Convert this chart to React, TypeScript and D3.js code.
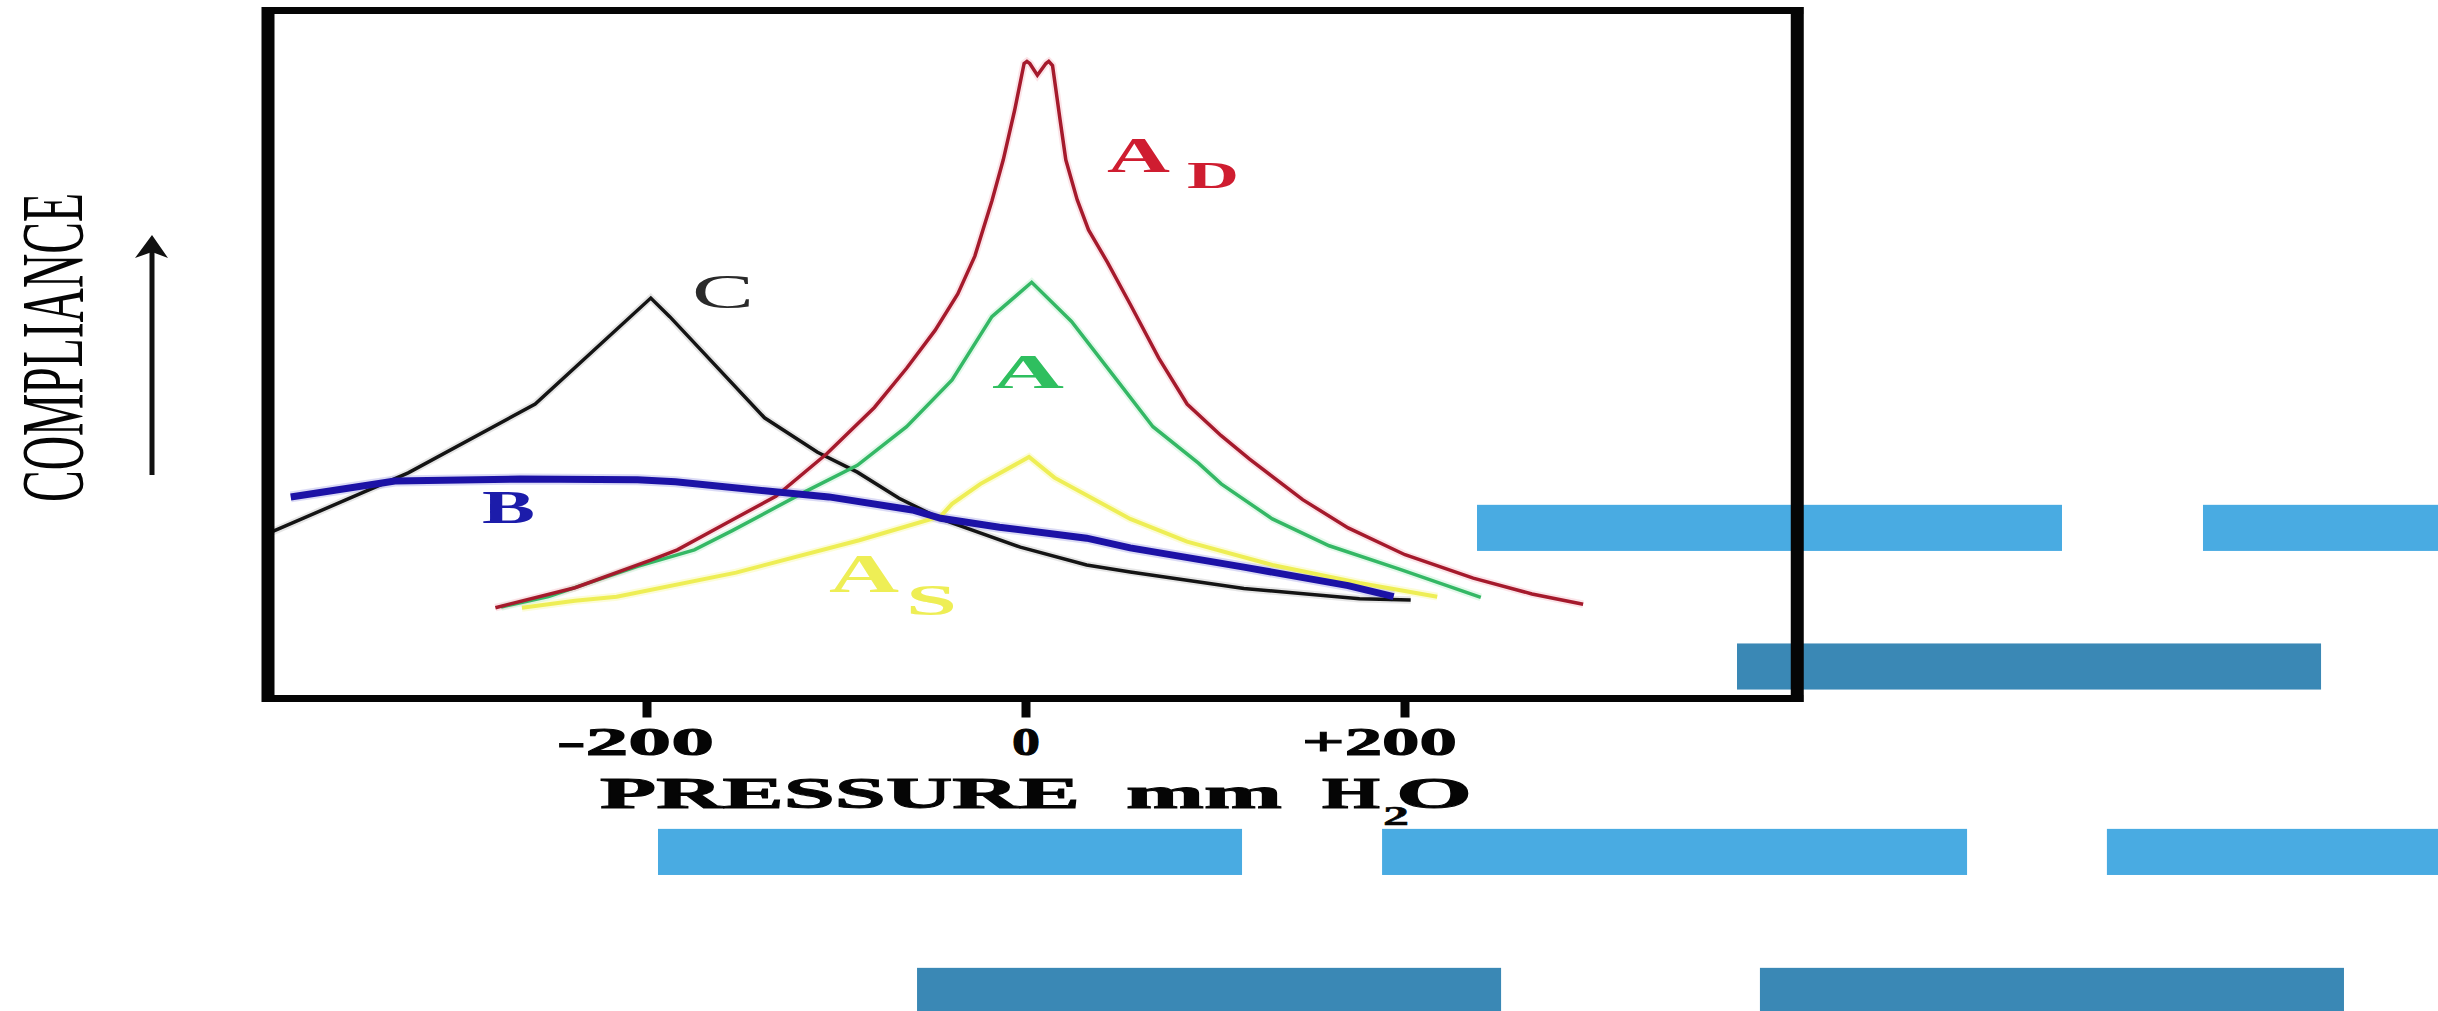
import React from "react";
import * as d3 from "d3";

// ---- data (pressure mm H2O, relative compliance 0-100) ----
const curveAD: [number, number][] = [
  [-280, 13.2], [-238, 16.1], [-198, 20.1], [-184, 21.6], [-158, 25.5], [-132, 29.4],
  [-105, 35.6], [-80, 42.3], [-63, 48.0], [-48, 53.5], [-36, 58.8], [-27, 64.3], [-18, 72.3],
  [-12, 78.3], [-6, 85.5], [-1, 92.3], [0.5, 92.6], [2, 92.3], [6, 90.6], [10.5, 92.3],
  [12, 92.6], [14, 92.0], [18, 84.1], [21, 78.3], [27, 72.5], [33, 68.1], [43, 63.4],
  [55, 57.3], [70, 49.5], [85, 42.8], [103, 38.2], [118, 34.8], [146, 28.9], [170, 24.8],
  [200, 20.9], [236, 17.5], [267, 15.2], [294, 13.7],
];
const curveA: [number, number][] = [
  [-277, 13.3], [-252, 14.8], [-205, 19.2], [-175, 21.6], [-155, 24.4], [-117, 30.0],
  [-89, 33.9], [-63, 39.5], [-39, 46.3], [-18, 55.5], [3, 60.5], [24, 54.8], [48.5, 46.1],
  [67, 39.5], [91, 34.2], [103, 31.2], [130, 26.1], [160, 22.2], [197, 18.8], [240, 14.7],
];
const curveAS: [number, number][] = [
  [-266, 13.2], [-238, 14.2], [-216, 14.8], [-153, 18.3], [-88, 23.0], [-45, 26.5],
  [-39, 28.3], [-24, 31.2], [1.6, 35.1], [15, 32.1], [55, 26.1], [85, 22.8], [130, 19.4],
  [176, 16.8], [217, 14.8],
];
const curveB: [number, number][] = [
  [-388, 29.3], [-333, 31.6], [-267, 31.9], [-205, 31.8], [-185, 31.5], [-138, 30.2],
  [-104, 29.3], [-60, 27.4], [-45, 26.2], [-14, 24.9], [32, 23.3], [55, 21.9], [115, 19.1],
  [170, 16.4], [194, 14.8],
];
const curveC: [number, number][] = [
  [-399, 24.1], [-326, 32.8], [-259, 42.8], [-198, 58.2], [-188, 55.5], [-138, 40.8],
  [-110, 35.8], [-89, 32.9], [-67, 29.1], [-45, 26.1], [-3, 22.0], [32, 19.4], [55, 18.4],
  [115, 16.0], [176, 14.5], [203, 14.3],
];

const tickValues = [-200, 0, 200];
const tickLabels = ["-200", "0", "+200"];
const xTitleParts = ["PRESSURE", "mm", "H", "2", "O"];
const yTitle = "COMPLIANCE";

// overlay stripes (in the same pressure / compliance units)
const stripeRowCenters = [24.8, 4.65, -22.3, -42.5];
const stripeRowShade = ["light", "dark", "light", "dark"];
const stripeSegments: [number, number, number][] = [
  [0, 238, 546.7], [0, 621.1, 780],
  [1, 375.2, 683.4],
  [2, -194.2, 114.0], [2, 187.9, 496.6], [2, 570.4, 780],
  [3, -57.5, 250.7], [3, 387.3, 695.5],
];

// ---- layout / style ----
const W = 2438;
const H = 1011;
const x = d3.scaleLinear().domain([-200, 200]).range([647, 1405]);
const y = d3.scaleLinear().domain([0, 100]).range([698.5, 10.5]);
const frameX0 = -400;
const frameX1 = 407;
const stripeHeight = 6.7;
const FONT = "'Liberation Serif', 'DejaVu Serif', serif";

const curves = [
  { id: "C", data: curveC, color: "#141414", width: 3.5, halo: "#c8c8c8" },
  { id: "AS", data: curveAS, color: "#eeee55", width: 4, halo: "#f8f8a8" },
  { id: "A", data: curveA, color: "#34b865", width: 3.5, halo: "#c0f0d0" },
  { id: "AD", data: curveAD, color: "#a51a2c", width: 3.5, halo: "#f6c4cc" },
  { id: "B", data: curveB, color: "#1c12a6", width: 7, halo: "#b0b0e8" },
];

const tickLabelLayout: Record<string, { dx: number; len: number }> = {
  "-200": { dx: -11.5, len: 157 },
  "0": { dx: 0, len: 28 },
  "+200": { dx: -25.5, len: 155 },
};

export default function App() {
  const line = d3
    .line<[number, number]>()
    .x((d) => x(d[0]))
    .y((d) => y(d[1]))
    .curve(d3.curveLinear);

  const xl = x(frameX0);
  const xr = x(frameX1);
  const yt = y(100);
  const yb = y(0);

  const bold = { fontWeight: "bold" as const, fill: "#050505", stroke: "#050505", strokeWidth: 1 };

  return (
    <svg
      width={W}
      height={H}
      style={{ position: "absolute", left: 0, top: 0, background: "#fff" }}
      fontFamily={FONT}
    >
      <rect x={0} y={0} width={W} height={H} fill="#ffffff" />

      {/* curves */}
      {curves.map((c) => (
        <path key={c.id + "h"} d={line(c.data) || ""} fill="none" stroke={c.halo}
          strokeWidth={c.width + 4} strokeOpacity={0.45} strokeLinejoin="miter" />
      ))}
      {curves.map((c) => (
        <path key={c.id} d={line(c.data) || ""} fill="none" stroke={c.color}
          strokeWidth={c.width} strokeLinejoin="miter" strokeMiterlimit={10} />
      ))}

      {/* curve labels */}
      <text x={692} y={308} fontSize={48} fill="#2a2a2a" textLength={62} lengthAdjust="spacingAndGlyphs">C</text>
      <text x={482} y={523} fontSize={47} fontWeight="bold" fill="#1c1caa" textLength={53} lengthAdjust="spacingAndGlyphs">B</text>
      <text x={992} y={388} fontSize={48} fontWeight="bold" fill="#2fbf5f" textLength={72} lengthAdjust="spacingAndGlyphs">A</text>
      <text x={1107} y={172} fontSize={51} fontWeight="bold" fill="#cf1d30" textLength={63} lengthAdjust="spacingAndGlyphs">A</text>
      <text x={1187} y={188} fontSize={38} fontWeight="bold" fill="#cf1d30" textLength={52} lengthAdjust="spacingAndGlyphs">D</text>
      <text x={829} y={592} fontSize={54} fontWeight="bold" fill="#eeee55" textLength={70} lengthAdjust="spacingAndGlyphs">A</text>
      <text x={906} y={615} fontSize={44} fontWeight="bold" fill="#eeee55" textLength={51} lengthAdjust="spacingAndGlyphs">S</text>

      {/* overlay stripes */}
      {stripeSegments.map(([r, a, b], i) => (
        <rect key={"s" + i} x={x(a)} y={y(stripeRowCenters[r] + stripeHeight / 2)}
          width={x(b) - x(a)} height={y(0) - y(stripeHeight)}
          fill={stripeRowShade[r] === "light" ? "#49abe2" : "#3a88b5"} />
      ))}

      {/* frame */}
      <line x1={xl} x2={xr + 6} y1={yt} y2={yt} stroke="#050505" strokeWidth={7} />
      <line x1={xl - 6} x2={xr + 6} y1={yb} y2={yb} stroke="#050505" strokeWidth={7} />
      <line x1={xl} x2={xl} y1={yt - 3.5} y2={yb + 3.5} stroke="#050505" strokeWidth={13} />
      <line x1={xr} x2={xr} y1={yt - 3.5} y2={yb + 3.5} stroke="#050505" strokeWidth={13} />

      {/* ticks */}
      {tickValues.map((v) => (
        <line key={"t" + v} x1={x(v)} x2={x(v)} y1={yb} y2={yb + 19} stroke="#050505" strokeWidth={9} />
      ))}
      {tickValues.map((v, i) => {
        const lab = tickLabels[i];
        const l = tickLabelLayout[lab];
        return (
          <text key={"tl" + v} x={x(v) + l.dx} y={755} textAnchor="middle" fontSize={41}
            {...bold} textLength={l.len} lengthAdjust="spacingAndGlyphs">
            {lab}
          </text>
        );
      })}

      {/* x title */}
      <text x={600} y={808} fontSize={45} {...bold} textLength={480} lengthAdjust="spacingAndGlyphs">{xTitleParts[0]}</text>
      <text x={1126} y={808} fontSize={45} {...bold} textLength={156} lengthAdjust="spacingAndGlyphs">{xTitleParts[1]}</text>
      <text x={1322} y={808} fontSize={45} {...bold} textLength={58} lengthAdjust="spacingAndGlyphs">{xTitleParts[2]}</text>
      <text x={1383} y={825} fontSize={27} {...bold} strokeWidth={0.5} textLength={26} lengthAdjust="spacingAndGlyphs">{xTitleParts[3]}</text>
      <text x={1396} y={808} fontSize={45} {...bold} textLength={76} lengthAdjust="spacingAndGlyphs">{xTitleParts[4]}</text>

      {/* y title (condensed serif, reading upward) + arrow */}
      <g transform="translate(82,502) rotate(-90)">
        <text x={0} y={0} fontSize={47.5} fill="#050505" transform="scale(1,1.88)"
          textLength={309} lengthAdjust="spacingAndGlyphs">{yTitle}</text>
      </g>
      <line x1={152} x2={152} y1={475} y2={252} stroke="#111" strokeWidth={5} />
      <path d="M152,235 L135,258 L152,252 L168,258 Z" fill="#111" />
    </svg>
  );
}
